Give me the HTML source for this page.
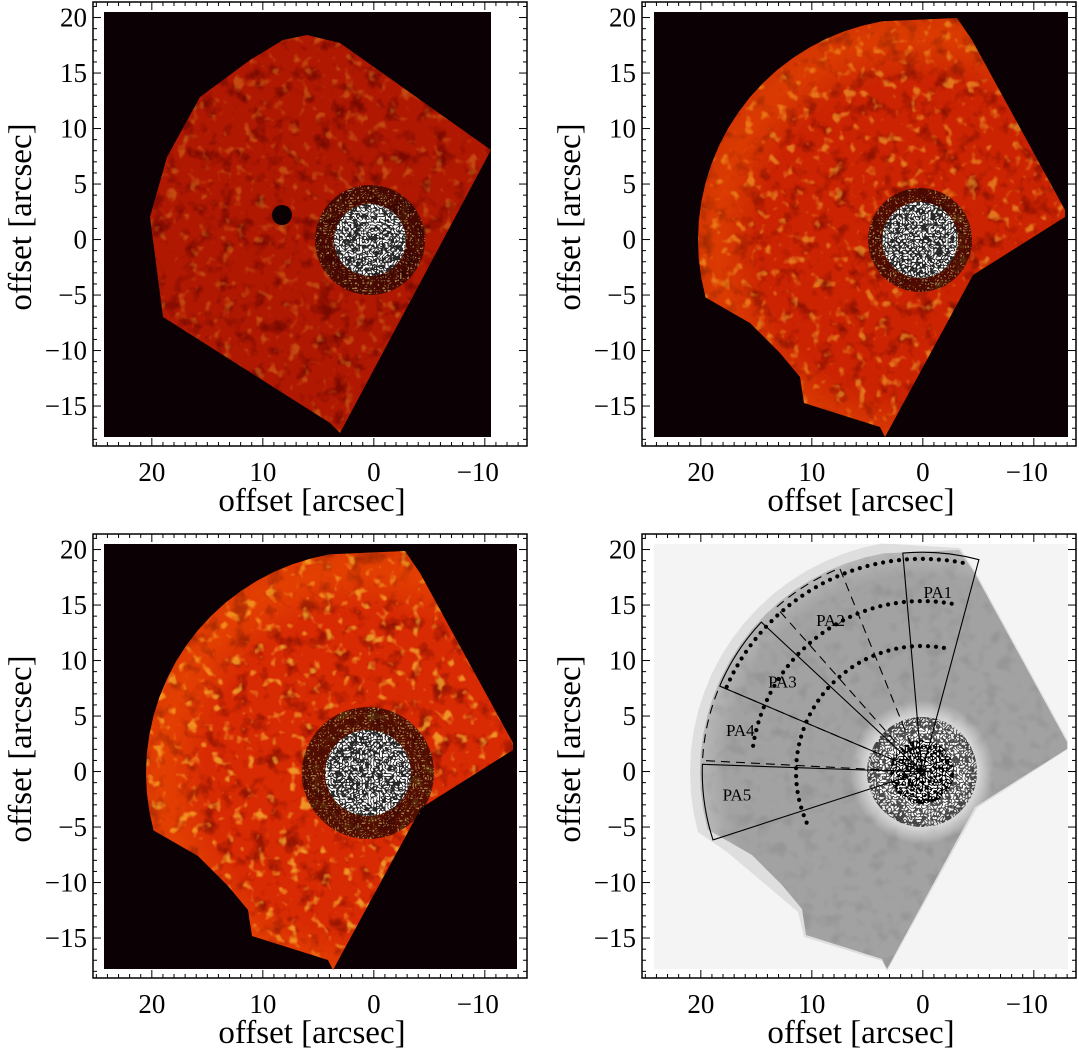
<!DOCTYPE html>
<html><head><meta charset="utf-8">
<style>
html,body{margin:0;padding:0;background:#fff;}
svg{display:block;font-family:"Liberation Serif",serif;}
</style></head>
<body>
<svg id="fig" width="1079" height="1050" viewBox="0 0 1079 1050" xmlns="http://www.w3.org/2000/svg">
<defs>
  <filter id="yellowTex" x="0" y="0" width="100%" height="100%">
    <feTurbulence type="fractalNoise" baseFrequency="0.09" numOctaves="2" seed="3"/>
    <feColorMatrix type="matrix" values="0 0 0 0 1  0 0 0 0 0.7  0 0 0 0 0.05  5 0 0 0 -2.9"/>
  </filter>
  <filter id="darkTex" x="0" y="0" width="100%" height="100%">
    <feTurbulence type="fractalNoise" baseFrequency="0.06" numOctaves="3" seed="8"/>
    <feColorMatrix type="matrix" values="0 0 0 0 0.1  0 0 0 0 0  0 0 0 0 0  0 -3.5 0 0 1.7"/>
  </filter>
  <filter id="greyDark" x="0" y="0" width="100%" height="100%">
    <feTurbulence type="fractalNoise" baseFrequency="0.07" numOctaves="2" seed="5"/>
    <feColorMatrix type="matrix" values="0 0 0 0 0.25  0 0 0 0 0.25  0 0 0 0 0.25  0 -3 0 0 1.5"/>
  </filter>
  <filter id="speckB" x="0" y="0" width="100%" height="100%">
    <feTurbulence type="turbulence" baseFrequency="0.35" numOctaves="1" seed="2"/>
    <feColorMatrix type="matrix" values="0 0 0 0 0  0 0 0 0 0  0 0 0 0 0  0 0 -9 0 2.2"/>
  </filter>
  <filter id="speckY" x="0" y="0" width="100%" height="100%">
    <feTurbulence type="turbulence" baseFrequency="0.4" numOctaves="1" seed="11"/>
    <feColorMatrix type="matrix" values="0 0 0 0 1  0 0 0 0 0.9  0 0 0 0 0.3  9 0 0 0 -2.6"/>
  </filter>
  <radialGradient id="rimTR" cx="0.5" cy="0.5" r="0.5">
    <stop offset="0.72" stop-color="#ff8000" stop-opacity="0"/>
    <stop offset="0.9" stop-color="#ff7000" stop-opacity="0.3"/>
    <stop offset="1" stop-color="#ff9000" stop-opacity="0.15"/>
  </radialGradient>
  <radialGradient id="fadeGrey" cx="0.5" cy="0.5" r="0.5">
    <stop offset="0.8" stop-color="#fff" stop-opacity="0"/>
    <stop offset="1" stop-color="#fff" stop-opacity="0.45"/>
  </radialGradient>
  <radialGradient id="haloGrey" cx="0.5" cy="0.5" r="0.5">
    <stop offset="0.6" stop-color="#fff" stop-opacity="1"/>
    <stop offset="1" stop-color="#fff" stop-opacity="0"/>
  </radialGradient>
</defs>
<g id="root"></g>
</svg>
<script>
// ---- axis data ----
var xTickVals = [20, 10, 0, -10];
var xTickLabels = ["20", "10", "0", "\u221210"];
var yTickVals = [20, 15, 10, 5, 0, -5, -10, -15];
var yTickLabels = ["20", "15", "10", "5", "0", "\u22125", "\u221210", "\u221215"];
var xMin = 25.3, xMax = -13.8, yMin = -18.6, yMax = 21.4;
// ---- PA sector data (degrees CCW from +x on screen, radius arcsec) ----
var paNames = ["PA1", "PA2", "PA3", "PA4", "PA5"];
var paStart = [75, 112, 137, 157, 178];
var paEnd = [95, 131.5, 157, 177, 198];
var paSolid = [true, false, true, false, true];
var paRadius = [19.8, 19.8, 19.8, 19.8, 19.8];
var paLabelR = [16.3, 16.0, 15.0, 16.8, 16.8];
var paLabelAng = [85, 121, 147, 167, 187];
// ---- dotted ring data ----
var ringRadius = [19.2, 15.4, 11.35];
var ringStart = [79, 80, 80];
var ringEnd = [158, 172, 207];

var NS = "http://www.w3.org/2000/svg";
var root = document.getElementById("root");
function el(tag, attrs, parent) {
  var e = document.createElementNS(NS, tag);
  for (var k in attrs) e.setAttribute(k, attrs[k]);
  (parent || root).appendChild(e);
  return e;
}

function fieldPts(cx, cy, big) {
  var pts = [];
  var R = big ? 232 : 222;
  for (var a = 100; a <= 195; a += 5) {
    pts.push([cx + R * Math.cos(a * Math.PI / 180), cy - R * Math.sin(a * Math.PI / 180)]);
  }
  var rest = [[-170,83],[-140,113],[-120,137],[-116,163],[-40,187],[-35,197],[53,35],[145,-23],[145,-30],[52,-200],[37,-222]];
  if (big) rest = [[-195,80],[-150,118],[-124,140],[-118,165],[-40,189],[-35,199],[55,36],[146,-23],[146,-31],[53,-201],[38,-224]];
  rest.forEach(function (p) { pts.push([cx + p[0], cy + p[1]]); });
  return pts.map(function (p) { return p[0].toFixed(1) + "," + p[1].toFixed(1); }).join(" ");
}
var tlPts = [[307,35],[340,43],[491,150],[340,433],[330,423],[163,317],[150,217],[167,157],[200,97],[250,60],[283,40]];

var panels = [
  {name: "top-left", ox: 0, oy: 0, kind: "tl", sx: 370, sy: 240},
  {name: "top-right", ox: 549, oy: 0, kind: "red2", sx: 920, sy: 240},
  {name: "bottom-left", ox: 0, oy: 532, kind: "red3", sx: 368, sy: 773},
  {name: "bottom-right", ox: 549, oy: 532, kind: "grey", sx: 922, sy: 772}
];

panels.forEach(function (P, idx) {
  var g = el("g", {});
  
  
  var fx0 = 93 + P.ox, fy0 = 2 + P.oy, fx1 = 527 + P.ox, fy1 = 446 + P.oy;
  var X = function (v) { return fx0 + (v - xMin) / (xMax - xMin) * (fx1 - fx0); };
  var Y = function (v) { return fy1 - (v - yMin) / (yMax - yMin) * (fy1 - fy0); };
  var ix0 = 104 + P.ox, iy0 = 12 + P.oy, ix1;
  if (P.kind === "tl") ix1 = 491;
  else if (P.kind === "red3") ix1 = 517;
  else { ix0 = 654; ix1 = 1068; }
  var iy1 = 437 + P.oy;
  var img = el("g", {}, g);
  
  
  var cid = "clip" + idx;
  var cp = el("clipPath", {id: cid}, img);
  var ptsStr;
  if (P.kind === "tl") ptsStr = tlPts.map(function (p) { return p.join(","); }).join(" ");
  else ptsStr = fieldPts(P.sx, P.sy, false);
  el("polygon", {points: ptsStr}, cp);

  if (P.kind === "grey") {
    el("rect", {x: ix0, y: iy0, width: ix1 - ix0, height: iy1 - iy0, fill: "#f4f4f4"}, img);
    el("polygon", {points: fieldPts(P.sx, P.sy, true), fill: "#dedede"}, img);
    el("polygon", {points: ptsStr, fill: "#a2a2a2"}, img);
    var gg = el("g", {"clip-path": "url(#" + cid + ")"}, img);
    el("rect", {x: ix0, y: iy0, width: ix1 - ix0, height: iy1 - iy0, filter: "url(#greyDark)", opacity: 0.5}, gg);
    el("circle", {cx: P.sx, cy: P.sy, r: 245, fill: "url(#fadeGrey)"}, gg);
    el("circle", {cx: P.sx, cy: P.sy, r: 72, fill: "url(#haloGrey)"}, gg);
    var sc = el("clipPath", {id: "sc" + idx}, img);
    el("circle", {cx: P.sx, cy: P.sy, r: 55}, sc);
    var sg = el("g", {"clip-path": "url(#sc" + idx + ")"}, img);
    el("rect", {x: P.sx - 60, y: P.sy - 60, width: 120, height: 120, filter: "url(#speckB)", opacity: 0.7}, sg);
    var sc3 = el("clipPath", {id: "sci" + idx}, img);
    el("circle", {cx: P.sx, cy: P.sy, r: 32}, sc3);
    var sg3 = el("g", {"clip-path": "url(#sci" + idx + ")"}, img);
    el("circle", {cx: P.sx, cy: P.sy, r: 32, fill: "#fff"}, sg3);
    el("rect", {x: P.sx - 40, y: P.sy - 40, width: 80, height: 80, filter: "url(#speckB)"}, sg3);
  } else {
    el("rect", {x: ix0, y: iy0, width: ix1 - ix0, height: iy1 - iy0, fill: "#0b0003"}, img);
    var base = P.kind === "tl" ? "#b01802" : (P.kind === "red2" ? "#cc2402" : "#d82a03");
    el("polygon", {points: ptsStr, fill: base}, img);
    var rg = el("g", {"clip-path": "url(#" + cid + ")"}, img);
    el("rect", {x: ix0, y: iy0, width: ix1 - ix0, height: iy1 - iy0, filter: "url(#darkTex)", opacity: P.kind === "tl" ? 0.6 : 0.5}, rg);
    el("rect", {x: ix0, y: iy0, width: ix1 - ix0, height: iy1 - iy0, filter: "url(#yellowTex)", opacity: P.kind === "tl" ? 0.25 : (P.kind === "red2" ? 0.45 : 0.6)}, rg);
    if (P.kind !== "tl") el("circle", {cx: P.sx, cy: P.sy, r: 225, fill: "url(#rimTR)"}, rg);
    var rIn = P.kind === "tl" ? 36 : (P.kind === "red2" ? 38 : 43);
    var rOut = P.kind === "tl" ? 55 : (P.kind === "red2" ? 52 : 66);
    el("circle", {cx: P.sx, cy: P.sy, r: rOut, fill: "#1a0202", opacity: 0.7}, rg);
    var sc2 = el("clipPath", {id: "sc" + idx}, img);
    el("circle", {cx: P.sx, cy: P.sy, r: rOut}, sc2);
    var sg2 = el("g", {"clip-path": "url(#sc" + idx + ")"}, img);
    el("rect", {x: P.sx - 70, y: P.sy - 70, width: 140, height: 140, filter: "url(#speckY)", opacity: 0.5}, sg2);
    var sc4 = el("clipPath", {id: "sci" + idx}, img);
    el("circle", {cx: P.sx, cy: P.sy, r: rIn}, sc4);
    var sg4 = el("g", {"clip-path": "url(#sci" + idx + ")"}, img);
    el("circle", {cx: P.sx, cy: P.sy, r: rIn, fill: "#fff"}, sg4);
    el("rect", {x: P.sx - 50, y: P.sy - 50, width: 100, height: 100, filter: "url(#speckB)", opacity: 0.85}, sg4);
    if (P.kind === "tl") el("circle", {cx: 282, cy: 215, r: 10, fill: "#0b0003"}, img);
  }

  if (P.kind === "grey") {
    var ov = el("g", {fill: "none", stroke: "#000"}, g);
    
    
    var S = 11.1;
    var pol = function (r, a) { return [P.sx + r * S * Math.cos(a * Math.PI / 180), P.sy - r * S * Math.sin(a * Math.PI / 180)]; };
    paNames.forEach(function (nm, i) {
      var r = paRadius[i];
      var p1 = pol(r, paStart[i]), p2 = pol(r, paEnd[i]);
      var d = "M" + P.sx + "," + P.sy + " L" + p1[0].toFixed(1) + "," + p1[1].toFixed(1) +
        " A" + (r * S) + "," + (r * S) + " 0 0 0 " + p2[0].toFixed(1) + "," + p2[1].toFixed(1) + " Z";
      var s = el("path", {d: d, "stroke-width": 1.1, "stroke-dasharray": paSolid[i] ? "none" : "9,6"}, ov);
      
      
      var lp = pol(paLabelR[i], paLabelAng[i]);
      var t = el("text", {x: lp[0].toFixed(1), y: (lp[1] + 6).toFixed(1), "text-anchor": "middle", "font-size": 17, fill: "#000", stroke: "none"}, g);
      t.textContent = nm;
      
      
    });
    ringRadius.forEach(function (r, i) {
      var rg2 = el("g", {}, g);
      
      
      var step = 8 / (r * S) * 180 / Math.PI;
      for (var a = ringStart[i]; a <= ringEnd[i] + 0.01; a += step) {
        var p = pol(r, a);
        var c = el("circle", {cx: p[0].toFixed(1), cy: p[1].toFixed(1), r: 2.1, fill: "#000"}, rg2);
        
        
      }
    });
  }

  var fr = el("rect", {x: fx0, y: fy0, width: fx1 - fx0, height: fy1 - fy0, fill: "none", stroke: "#000", "stroke-width": 1.5}, g);
  
  
  var tk = el("g", {stroke: "#000", "stroke-width": 1}, g);
  
  
  for (var v = -13; v <= 25; v++) {
    var x = X(v), L = (v % 10 === 0) ? 8 : 4;
    el("line", {x1: x, y1: fy1, x2: x, y2: fy1 - L}, tk);
    el("line", {x1: x, y1: fy0, x2: x, y2: fy0 + L}, tk);
  }
  for (var w = -18; w <= 21; w++) {
    var y = Y(w), L2 = (w % 5 === 0) ? 8 : 4;
    el("line", {x1: fx0, y1: y, x2: fx0 + L2, y2: y}, tk);
    el("line", {x1: fx1, y1: y, x2: fx1 - L2, y2: y}, tk);
  }
  xTickVals.forEach(function (v, i) {
    var t = el("text", {x: X(v) - (v < 0 ? 7 : 0), y: fy1 + 35, "text-anchor": "middle", "font-size": 27}, g);
    t.textContent = xTickLabels[i];
    
    
  });
  yTickVals.forEach(function (v, i) {
    var t = el("text", {x: fx0 - 6, y: Y(v) + 9, "text-anchor": "end", "font-size": 27}, g);
    t.textContent = yTickLabels[i];
    
    
  });
  var xt = el("text", {x: (fx0 + fx1) / 2 + 2, y: fy1 + 65, "text-anchor": "middle", "font-size": 33}, g);
  xt.textContent = "offset [arcsec]";
  
  
  var yx = fx0 - 62, yy = (fy0 + fy1) / 2 - 7;
  var yt = el("text", {x: yx, y: yy, "text-anchor": "middle", "font-size": 33, transform: "rotate(-90 " + yx + " " + yy + ")"}, g);
  yt.textContent = "offset [arcsec]";
  
  
});
</script>
</body></html>
